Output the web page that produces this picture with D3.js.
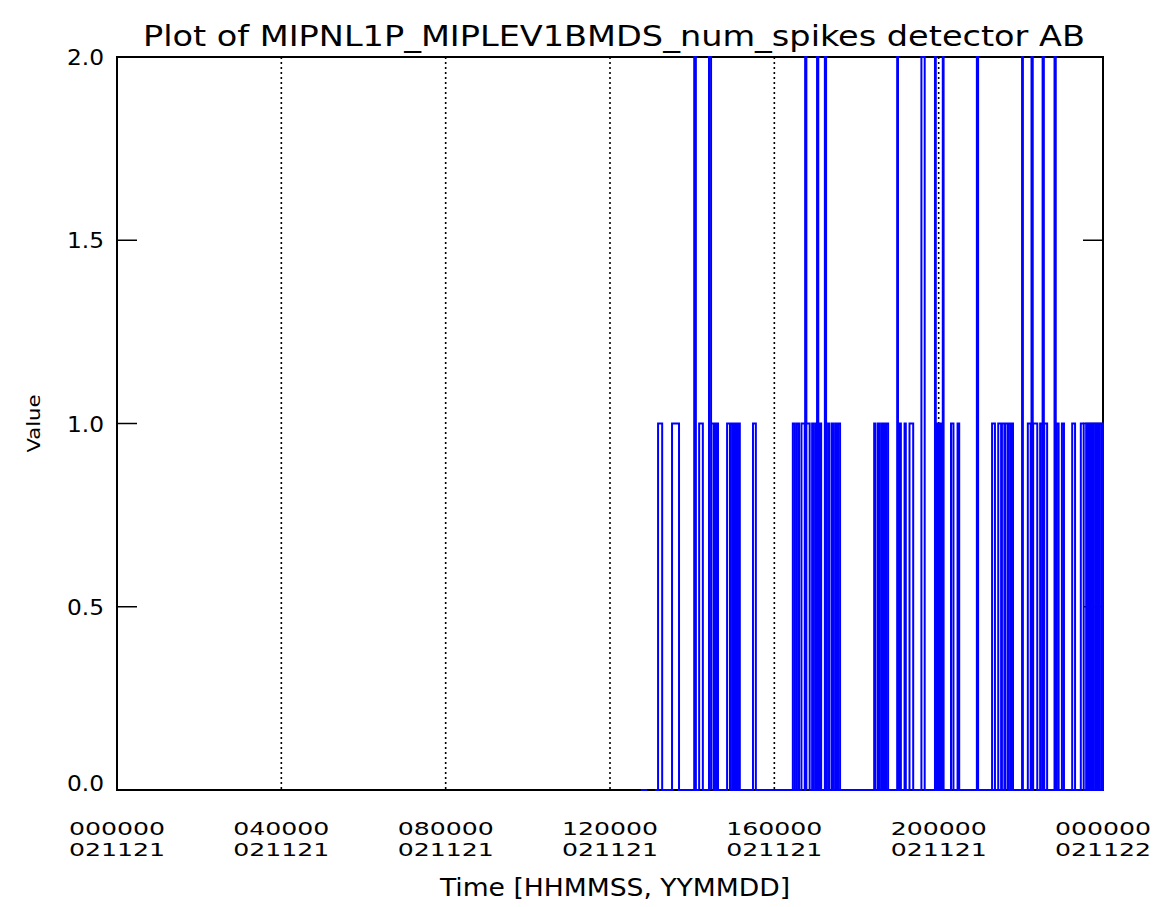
<!DOCTYPE html>
<html>
<head>
<meta charset="utf-8">
<script src="https://cdn.jsdelivr.net/npm/d3@7"></script>
<style>
  html, body { margin: 0; padding: 0; background: #fff; }
  svg { display: block; }
  text { font-family: "Liberation Sans Narrow", "DejaVu Sans Condensed", "Liberation Sans", sans-serif; fill: #000; }
</style>
</head>
<body>
<svg id="chart" width="1160" height="907"></svg>
<script>
// ---- data ----
const titleText = "Plot of MIPNL1P_MIPLEV1BMDS_num_spikes detector AB";
const xAxisTitle = "Time [HHMMSS, YYMMDD]";
const yAxisTitle = "Value";

const xTickHours = [0, 4, 8, 12, 16, 20, 24];
const xTickTimes = ["000000", "040000", "080000", "120000", "160000", "200000", "000000"];
const xTickDates = ["021121", "021121", "021121", "021121", "021121", "021121", "021122"];
const yTickValues = [0.0, 0.5, 1.0, 1.5, 2.0];
const yTickLabels = ["0.0", "0.5", "1.0", "1.5", "2.0"];

// short early data fragment (hours), value 0
const earlyStart = 12.75, earlyEnd = 12.90;
// main data record starts here (hours), baseline 0
const dataStart = 13.10;

// spikes: start hour, end hour, value
const pulseStart = [
  13.17, 13.51, 14.05, 14.17, 14.41, 14.46, 14.54, 14.60,
  14.85, 14.94, 15.02, 15.09, 15.13, 15.48,
  16.45, 16.55, 16.66, 16.75, 16.78, 16.92, 17.00, 17.04, 17.11, 17.23, 17.31, 17.40, 17.48, 17.55,
  18.43, 18.52, 18.60, 18.66, 18.72, 18.99, 19.05, 19.17, 19.29, 19.58,
  19.91, 19.95, 20.00, 20.05, 20.10, 20.30, 20.46,
  20.93, 21.30, 21.45, 21.54, 21.62, 21.70, 21.77,
  22.03, 22.17, 22.26, 22.30, 22.47, 22.53, 22.57, 22.82, 22.87, 23.00,
  23.25, 23.46, 23.59, 23.67, 23.74, 23.83, 23.91, 23.98
];
const pulseEnd = [
  13.27, 13.68, 14.09, 14.26, 14.46, 14.52, 14.58, 14.63,
  14.92, 14.99, 15.06, 15.10, 15.16, 15.55,
  16.50, 16.60, 16.74, 16.78, 16.86, 16.95, 17.03, 17.07, 17.14, 17.26, 17.34, 17.43, 17.51, 17.60,
  18.46, 18.55, 18.64, 18.70, 18.77, 19.01, 19.08, 19.20, 19.38, 19.66,
  19.93, 19.98, 20.03, 20.08, 20.12, 20.36, 20.50,
  20.96, 21.37, 21.52, 21.60, 21.68, 21.75, 21.81,
  22.05, 22.24, 22.29, 22.40, 22.52, 22.56, 22.64, 22.85, 22.92, 23.05,
  23.32, 23.53, 23.63, 23.70, 23.78, 23.87, 23.96, 24.00
];
const pulseValue = [
  1, 1, 2, 1, 2, 1, 1, 1,
  1, 1, 1, 1, 1, 1,
  1, 1, 1, 2, 1, 1, 1, 2, 1, 2, 1, 1, 1, 1,
  1, 1, 1, 1, 1, 2, 1, 1, 1, 2,
  2, 1, 1, 1, 2, 1, 1,
  2, 1, 1, 1, 1, 1, 1,
  2, 1, 2, 1, 1, 2, 1, 2, 1, 1,
  1, 1, 1, 1, 1, 1, 1, 1
];

// ---- layout ----
const svg = d3.select("#chart");
const pLeft = 117, pRight = 1103, pTop = 57, pBottom = 790;

const x = d3.scaleLinear().domain([0, 24]).range([pLeft, pRight]);
const y = d3.scaleLinear().domain([0, 2]).range([pBottom, pTop]);

// dotted vertical grid lines at interior x ticks
svg.append("g").selectAll("line")
  .data(xTickHours.slice(1, -1))
  .join("line")
  .attr("x1", d => x(d)).attr("x2", d => x(d))
  .attr("y1", pTop).attr("y2", pBottom)
  .attr("stroke", "#000").attr("stroke-width", 1.6)
  .attr("stroke-dasharray", "2,3");

// y ticks (inward, both sides)
const tickLen = 20;
const yt = svg.append("g");
yt.selectAll("line.l").data(yTickValues).join("line").attr("class", "l")
  .attr("x1", pLeft).attr("x2", pLeft + tickLen)
  .attr("y1", d => y(d)).attr("y2", d => y(d))
  .attr("stroke", "#000").attr("stroke-width", 1.5);
yt.selectAll("line.r").data(yTickValues).join("line").attr("class", "r")
  .attr("x1", pRight - tickLen).attr("x2", pRight)
  .attr("y1", d => y(d)).attr("y2", d => y(d))
  .attr("stroke", "#000").attr("stroke-width", 1.5);

// frame
svg.append("rect")
  .attr("x", pLeft).attr("y", pTop)
  .attr("width", pRight - pLeft).attr("height", pBottom - pTop)
  .attr("fill", "none").attr("stroke", "#000").attr("stroke-width", 2);

// ---- data line ----
const mainPts = [[dataStart, 0]];
pulseStart.forEach((s, i) => {
  mainPts.push([s, pulseValue[i]]);
  mainPts.push([pulseEnd[i], 0]);
});
mainPts.push([24, 0]);
const earlyPts = [[earlyStart, 0], [earlyEnd, 0]];

const line = d3.line()
  .x(d => x(d[0])).y(d => y(d[1]))
  .curve(d3.curveStepAfter);

svg.append("g").selectAll("path")
  .data([earlyPts, mainPts])
  .join("path")
  .attr("d", line)
  .attr("fill", "none")
  .attr("stroke", "#0000ff")
  .attr("stroke-width", 2);

// ---- text ----
svg.append("text")
  .attr("x", 143).attr("y", 46)
  .attr("font-size", 29)
  .attr("textLength", 942).attr("lengthAdjust", "spacingAndGlyphs")
  .text(titleText);

// y tick labels
svg.append("g").selectAll("text")
  .data(yTickValues)
  .join("text")
  .attr("x", 104)
  .attr("y", d => d === 0 ? y(d) + 1 : y(d) + 8)
  .attr("text-anchor", "end")
  .attr("font-size", 22)
  .attr("textLength", 37).attr("lengthAdjust", "spacingAndGlyphs")
  .text((d, i) => yTickLabels[i]);

// x tick labels: two rows
const xl = svg.append("g");
xl.selectAll("text.t").data(xTickHours).join("text").attr("class", "t")
  .attr("x", d => x(d)).attr("y", 835)
  .attr("text-anchor", "middle")
  .attr("font-size", 17)
  .attr("textLength", 96).attr("lengthAdjust", "spacingAndGlyphs")
  .text((d, i) => xTickTimes[i]);
xl.selectAll("text.d").data(xTickHours).join("text").attr("class", "d")
  .attr("x", d => x(d)).attr("y", 856)
  .attr("text-anchor", "middle")
  .attr("font-size", 17)
  .attr("textLength", 96).attr("lengthAdjust", "spacingAndGlyphs")
  .text((d, i) => xTickDates[i]);

// axis titles
svg.append("text")
  .attr("x", (pLeft + pRight) / 2 + 5).attr("y", 896)
  .attr("text-anchor", "middle")
  .attr("font-size", 24)
  .attr("textLength", 350).attr("lengthAdjust", "spacingAndGlyphs")
  .text(xAxisTitle);

svg.append("text")
  .attr("transform", `translate(40, ${(pTop + pBottom) / 2}) rotate(-90)`)
  .attr("text-anchor", "middle")
  .attr("font-size", 18)
  .attr("textLength", 58).attr("lengthAdjust", "spacingAndGlyphs")
  .text(yAxisTitle);
</script>
</body>
</html>
